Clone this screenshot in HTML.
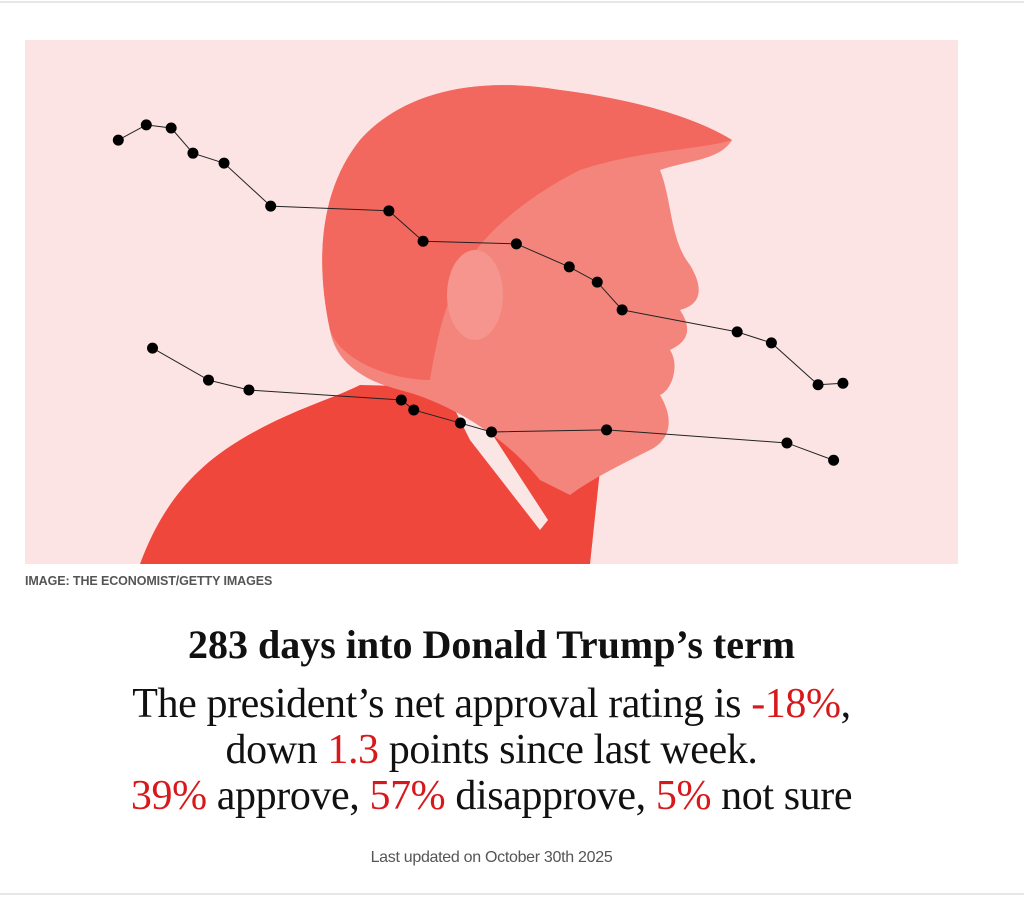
<!DOCTYPE html>
<html><head><meta charset="utf-8"><style>
body{margin:0;width:1024px;height:914px;background:#fff;position:relative;overflow:hidden;font-family:"Liberation Serif",serif}
.abs{position:absolute}
.c{position:absolute;left:0;width:983px;text-align:center;white-space:nowrap}
.r{color:#d7191c}
</style></head><body>
<div class="abs" style="left:0;top:1px;width:1024px;height:2px;background:#e6e6e6"></div>
<svg class="abs" style="left:0;top:0" width="1024" height="600">
<rect x="25" y="40" width="933" height="524" fill="#fde4e4"/>
<g>
<path d="M140,564 C160,510 190,470 240,440 C290,410 330,400 360,385 L560,390 L600,470 L590,564 Z" fill="#f0473d"/>
<path d="M440,380 L470,400 L548,520 L540,530 L470,440 Z" fill="#fbe6e6"/>
<path d="M330,330 C315,260 320,190 360,140 C400,95 470,75 560,90 C640,100 700,120 732,140 C720,160 690,160 660,170 C672,200 670,240 690,265 C705,290 700,305 680,310 C690,325 692,340 670,350 C680,365 672,390 660,395 C675,420 670,440 650,450 C620,465 590,480 570,495 L540,480 C500,430 440,400 400,390 C360,380 335,360 330,330 Z" fill="#f4857c"/>
<path d="M330,330 C315,260 320,190 360,140 C400,95 470,75 560,90 C640,100 700,120 732,140 C700,150 640,150 580,170 C520,200 480,240 470,260 C450,290 440,320 430,380 C390,380 340,360 330,330 Z" fill="#f2685e"/>
<ellipse cx="475" cy="295" rx="28" ry="45" fill="#f5958d"/>
</g>
<g id="series"></g>
</svg>
<div class="abs" style="left:25px;top:574px;font:bold 12.5px 'Liberation Sans',sans-serif;color:#555;letter-spacing:-0.1px">IMAGE: THE ECONOMIST/GETTY IMAGES</div>
<div class="c" style="top:621px;font-weight:bold;font-size:40px;letter-spacing:0;color:#111">283 days into Donald Trump’s term</div>
<div class="c" style="top:681px;font-size:42px;line-height:46px;color:#111;letter-spacing:-0.4px">The president’s net approval rating is <span class="r">-18%</span>,<br>down <span class="r">1.3</span> points since last week.<br><span class="r">39%</span> approve, <span class="r">57%</span> disapprove, <span class="r">5%</span> not sure</div>
<div class="c" style="top:849px;font:16px 'Liberation Sans',sans-serif;color:#555;letter-spacing:-0.3px">Last updated on October 30th 2025</div>
<div class="abs" style="left:0;top:893px;width:1024px;height:2px;background:#e6e6e6"></div>
<script>
const topDays=[30,39,47,54,64,79,117,128,158,175,184,192,229,240,255,263];
const topVals=[80.9,83.8,83.2,78.4,76.5,68.3,67.4,61.6,61.1,56.7,53.8,48.5,44.3,42.2,34.2,34.5];
const botDays=[41,59,72,121,125,140,150,187,245,260];
const botVals=[41.2,35.1,33.2,31.3,29.4,26.9,25.2,25.6,23.1,19.8];
const xs=d=>25+d*3.11, ys=v=>564-v*5.24;
const g=document.getElementById('series'),NS='http://www.w3.org/2000/svg';
function draw(days,vals,name){
  const pl=document.createElementNS(NS,'polyline');
  pl.setAttribute('points',days.map((d,i)=>xs(d)+','+ys(vals[i])).join(' '));
  pl.setAttribute('fill','none');pl.setAttribute('stroke','#222');pl.setAttribute('stroke-width','1');
  
  
  g.appendChild(pl);
  days.forEach((d,i)=>{
    const c=document.createElementNS(NS,'circle');
    c.setAttribute('cx',xs(d));c.setAttribute('cy',ys(vals[i]));c.setAttribute('r','5.5');c.setAttribute('fill','#000');
    
    
    g.appendChild(c);
  });
}
draw(topDays,topVals,'upper-series');
draw(botDays,botVals,'lower-series');
</script>
</body></html>
